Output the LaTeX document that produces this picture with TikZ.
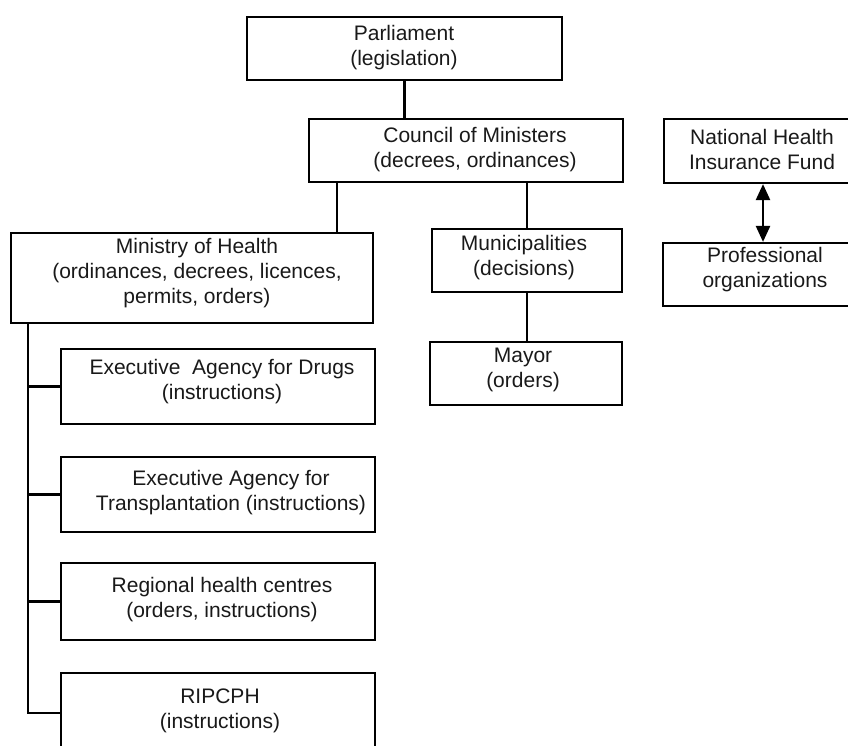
\documentclass[tikz,border=0pt]{standalone}
\usepackage{fontspec}
\setmainfont{Liberation Sans}
\usetikzlibrary{arrows.meta}
\begin{document}
\begin{tikzpicture}[x=1pt,y=-1pt,
  box/.style={draw=black,line width=2.2pt,inner sep=0pt,minimum width=#1},
  txt/.style={align=center,text=black!90,font=\fontsize{21}{25}\selectfont,inner sep=0pt},
  conn/.style={draw=black,line width=2.4pt},
  dbl/.style={draw=black,line width=2.4pt,{Triangle[width=14pt,length=16pt]}-{Triangle[width=14pt,length=16pt]}}]
\useasboundingbox (0,0) rectangle (848,745);
\clip (0,0) rectangle (848,745);
% boxes
\node[box=315pt,minimum height=63pt] (parl) at (404.5,48.5) {};
\node[box=314pt,minimum height=63pt] (council) at (466,150.5) {};
\node[box=362pt,minimum height=90pt] (ministry) at (192,278) {};
\node[box=314pt,minimum height=75pt] (drugs) at (218,386.5) {};
\node[box=314pt,minimum height=75pt] (transp) at (218,494.5) {};
\node[box=314pt,minimum height=77pt] (regional) at (218,601.5) {};
\node[box=314pt,minimum height=80pt] (ripcph) at (218,713) {};
\node[box=190pt,minimum height=63pt] (munic) at (527,260.5) {};
\node[box=192pt,minimum height=63pt] (mayor) at (526,373.5) {};
\node[box=196pt,minimum height=64pt] (nhif) at (762,151) {};
\node[box=204pt,minimum height=63pt] (prof) at (765,274.5) {};
% texts
\node[txt] (tparl) at (404,48) {Parliament\\(legislation)};
\node[txt] (tcouncil) at (475,150) {Council of Ministers\\(decrees, ordinances)};
\node[txt] (tministry) at (197,273.5) {Ministry of Health\\(ordinances, decrees, licences,\\permits, orders)};
\node[txt] (tdrugs) at (222,382) {Executive\ \ Agency for Drugs\\(instructions)};
\node[txt] (ttransp) at (231,492.5) {Executive Agency for\\Transplantation (instructions)};
\node[txt] (tregional) at (222,600) {Regional health centres\\(orders, instructions)};
\node[txt] (tripcph) at (220,711) {RIPCPH\\(instructions)};
\node[txt] (tmunic) at (524,257.5) {Municipalities\\(decisions)};
\node[txt] (tmayor) at (523,370) {Mayor\\(orders)};
\node[txt] (tnhif) at (762,149.5) {National Health\\Insurance Fund};
\node[txt] (tprof) at (765,269.5) {Professional\\organizations};
% connectors
\draw[conn] (parl.south) -- (parl.south |- council.north);
\coordinate (cm) at ([xshift=29pt]council.south west);
\draw[conn] (cm) -- (cm |- ministry.north);
\draw[conn] (munic.north) -- (munic.north |- council.south);
\draw[conn] (munic.south) -- (munic.south |- mayor.north);
\coordinate (trunk) at ([xshift=18pt]ministry.south west);
\draw[conn] (trunk) |- (ripcph.west);
\draw[conn] (drugs.west) -- (drugs.west -| trunk);
\draw[conn] (transp.west) -- (transp.west -| trunk);
\draw[conn] (regional.west) -- (regional.west -| trunk);
\coordinate (ar) at ([xshift=1pt]nhif.south);
\draw[dbl] (ar) -- (ar |- prof.north);
\end{tikzpicture}
\end{document}
